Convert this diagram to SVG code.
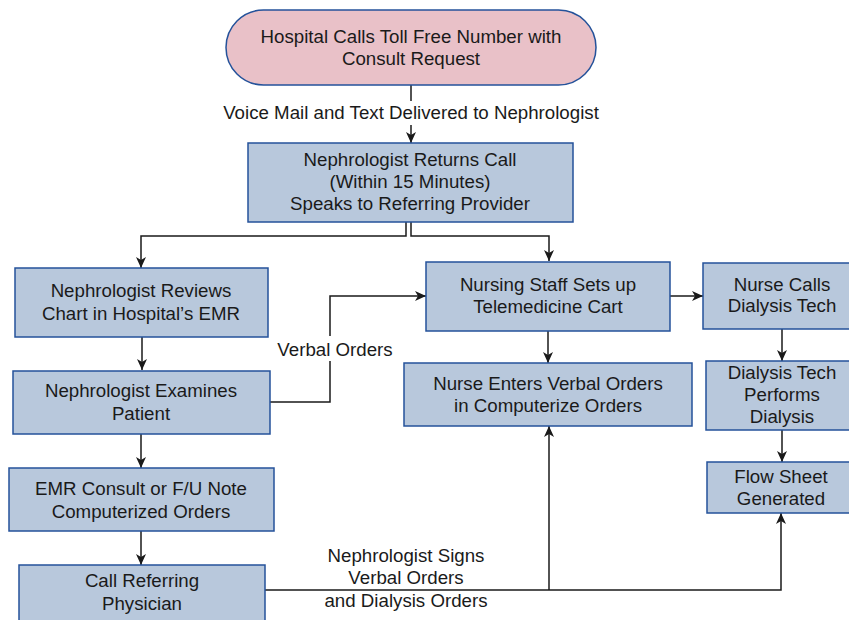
<svg xmlns="http://www.w3.org/2000/svg" width="849" height="620" viewBox="0 0 849 620">
<style>
.box{fill:#b8c8dc;stroke:#24529a;stroke-width:1.5}
.start{fill:#e9c1c8;stroke:#24529a;stroke-width:1.5}
text{font-family:"Liberation Sans",Arial,sans-serif;font-size:18.7px;fill:#1a1a1a;text-anchor:middle}
.c{fill:none;stroke:#1a1a1a;stroke-width:1.5}
</style>
<defs>
<marker id="ah" markerUnits="userSpaceOnUse" markerWidth="12" markerHeight="12" viewBox="0 0 12 10" refX="11" refY="5" orient="auto">
<path d="M0,0 L11,5 L0,10 L3,5 z" fill="#1a1a1a"/>
</marker>
</defs>
<rect width="849" height="620" fill="#ffffff"/>
<g id="connectors">
<path class="c" d="M411,85 V101"/>
<path class="c" d="M411,125 V143" marker-end="url(#ah)"/>
<path class="c" d="M406,222 V236 H141 V268" marker-end="url(#ah)"/>
<path class="c" d="M411,222 V236 H549 V261" marker-end="url(#ah)"/>
<path class="c" d="M142,337 V370" marker-end="url(#ah)"/>
<path class="c" d="M270,402 H330 V361"/>
<path class="c" d="M330,336 V296 H426" marker-end="url(#ah)"/>
<path class="c" d="M670,296 H703" marker-end="url(#ah)"/>
<path class="c" d="M548,331 V363" marker-end="url(#ah)"/>
<path class="c" d="M782,329 V361" marker-end="url(#ah)"/>
<path class="c" d="M782,430 V462" marker-end="url(#ah)"/>
<path class="c" d="M141,434 V468" marker-end="url(#ah)"/>
<path class="c" d="M141,531 V565" marker-end="url(#ah)"/>
<path class="c" d="M265,590 H781 V513" marker-end="url(#ah)"/>
<path class="c" d="M549,590 V426" marker-end="url(#ah)"/>
<text x="411" y="119">Voice Mail and Text Delivered to Nephrologist</text>
<text x="335" y="356">Verbal Orders</text>
<text x="406" y="562">Nephrologist Signs</text>
<text x="406" y="584">Verbal Orders</text>
<text x="406" y="607">and Dialysis Orders</text>
</g>
<g id="start">
<rect class="start" x="226" y="10" width="370" height="75" rx="37.5" ry="37.5"/>
<text x="411" y="43">Hospital Calls Toll Free Number with</text>
<text x="411" y="65">Consult Request</text>
</g>
<g id="returns">
<rect class="box" x="248" y="143" width="325" height="79"/>
<text x="410" y="166">Nephrologist Returns Call</text>
<text x="410" y="188">(Within 15 Minutes)</text>
<text x="410" y="210">Speaks to Referring Provider</text>
</g>
<g id="reviews">
<rect class="box" x="15" y="268" width="253" height="69"/>
<text x="141" y="297">Nephrologist Reviews</text>
<text x="141" y="320">Chart in Hospital’s EMR</text>
</g>
<g id="examines">
<rect class="box" x="13" y="371" width="257" height="63"/>
<text x="141" y="397">Nephrologist Examines</text>
<text x="141" y="420">Patient</text>
</g>
<g id="emr">
<rect class="box" x="9" y="468" width="265" height="63"/>
<text x="141" y="495">EMR Consult or F/U Note</text>
<text x="141" y="518">Computerized Orders</text>
</g>
<g id="callref">
<rect class="box" x="19" y="565" width="246" height="62"/>
<text x="142" y="587">Call Referring</text>
<text x="142" y="610">Physician</text>
</g>
<g id="nursing">
<rect class="box" x="426" y="262" width="244" height="69"/>
<text x="548" y="291">Nursing Staff Sets up</text>
<text x="548" y="313">Telemedicine Cart</text>
</g>
<g id="nursecalls">
<rect class="box" x="703" y="263" width="152" height="66"/>
<text x="782" y="291">Nurse Calls</text>
<text x="782" y="312">Dialysis Tech</text>
</g>
<g id="nurseenters">
<rect class="box" x="404" y="363" width="288" height="63"/>
<text x="548" y="390">Nurse Enters Verbal Orders</text>
<text x="548" y="412">in Computerize Orders</text>
</g>
<g id="dialysis">
<rect class="box" x="706" y="361" width="149" height="69"/>
<text x="782" y="379">Dialysis Tech</text>
<text x="782" y="401">Performs</text>
<text x="782" y="423">Dialysis</text>
</g>
<g id="flowsheet">
<rect class="box" x="707" y="462" width="148" height="51"/>
<text x="781" y="483">Flow Sheet</text>
<text x="781" y="505">Generated</text>
</g>
</svg>
